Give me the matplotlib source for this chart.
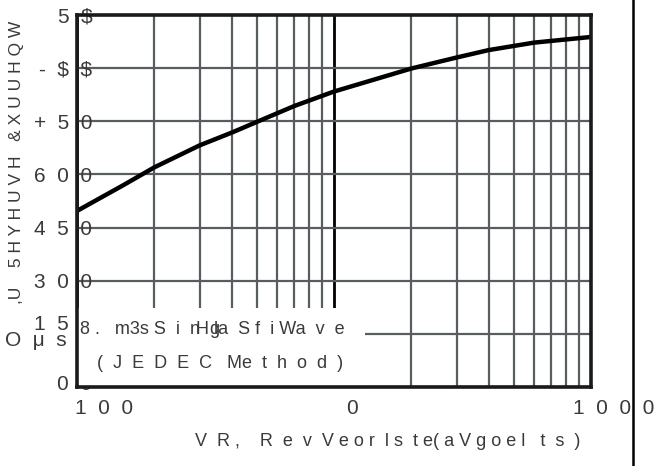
import matplotlib
matplotlib.use("Agg")
import matplotlib.pyplot as plt
from matplotlib.lines import Line2D
from matplotlib.patches import Rectangle
import matplotlib.transforms as mtransforms
import numpy as np

plt.rcParams["text.parse_math"] = False

# ---- data ----
vr = [1, 1.5, 2, 3, 4, 5, 7, 10, 15, 20, 30, 40, 60, 100]
ir = [497, 568, 620, 682, 718, 748, 793, 834, 872, 899, 930, 951, 972, 988]

y_ticks = [0, 150, 300, 450, 600, 750, 900, 1050]
y_tick_labels = ["0  0", "1  5  0", "3  0  0", "4  5  0", "6  0  0", "+  5  0", "-  $  $", "5  $"]
x_ticks = [1, 10, 100]
x_tick_labels = ["1  0  0", "0", "1  0  0  0"]

ylabel_text = ",U    5 H Y H U V H   & X U U H Q W"
unit_text = "O  μ  s"
note1_a = "8 .   m3s S  i  n  g"
note1_b = "H la  S f  i Wa  v  e"
note2 = "(  J  E  D  E  C   Me  t  h  o  d  )"
xlabel_text = "V  R ,    R  e  v  V e o r  l s  t e( a V g o e l   t  s  )"

FONT = "Liberation Sans"
TXT = "#3a3a3a"
GRID = "#575d60"

fig = plt.figure(figsize=(6.7, 4.66), dpi=100)
ax = fig.add_axes([77/670, 1-387/466, (591-77)/670, (387-15)/466])

ax.set_xscale("log")
ax.set_xlim(1, 100)
ax.set_ylim(0, 1050)
ax.set_axisbelow(True)

ax.plot(vr, ir, color="black", lw=3.2, solid_capstyle="butt", solid_joinstyle="round", zorder=3)

ax.set_yticks(y_ticks)
ax.set_yticklabels(y_tick_labels, fontfamily=FONT, fontsize=15, color=TXT)
ax.set_xticks(x_ticks)
ax.set_xticklabels(x_tick_labels, fontfamily=FONT, fontsize=15, color=TXT)
ax.xaxis.set_minor_locator(matplotlib.ticker.LogLocator(base=10, subs=np.arange(2, 10)))
ax.xaxis.set_minor_formatter(matplotlib.ticker.NullFormatter())
ax.tick_params(axis="both", which="both", length=0)
ax.tick_params(axis="y", pad=-11)
ax.tick_params(axis="x", pad=9)

# vertical nudges of y tick labels (pixels, positive = up)
y_shifts = [4, 11, 0, 0, 0, 0, 0, 0]
for lab, dy in zip(ax.get_yticklabels(), y_shifts):
    lab.set_horizontalalignment("right")
    lab.set_transform(lab.get_transform() + mtransforms.ScaledTranslation(0, dy/100, fig.dpi_scale_trans))

# shift x tick labels as in the reference
x_shifts = [27, 18, 23]
for lab, dx in zip(ax.get_xticklabels(), x_shifts):
    lab.set_transform(lab.get_transform() + mtransforms.ScaledTranslation(dx/100, 0, fig.dpi_scale_trans))

ax.yaxis.grid(True, color=GRID, lw=1.6)
ax.xaxis.grid(True, which="minor", color=GRID, lw=1.6)
ax.xaxis.grid(True, which="major", color="black", lw=2.0)

for s in ax.spines.values():
    s.set_linewidth(2.6)
    s.set_color("#1a1a1a")
    s.set_zorder(4)

# white note box covering the lower-left grid
ax.add_patch(Rectangle((0, 0), (365-77)/514, (387-308)/372, transform=ax.transAxes,
                       facecolor="white", edgecolor="none", zorder=1))

ax.set_ylabel(ylabel_text, fontfamily=FONT, fontsize=12.5, color=TXT)
ax.yaxis.set_label_coords((24-77)/514, (387-162)/372)

fig.text(5/670, 1-341/466, unit_text, fontfamily=FONT, fontsize=15, color=TXT, va="center", ha="left")

fig.text(80/670, 1-329/466, note1_a, fontfamily=FONT, fontsize=13, color=TXT, va="center", ha="left")
fig.text(196/670, 1-329/466, note1_b, fontfamily=FONT, fontsize=13, color=TXT, va="center", ha="left")
fig.text(97/670, 1-363/466, note2, fontfamily=FONT, fontsize=13, color=TXT, va="center", ha="left")

fig.text(388/670, 1-442/466, xlabel_text, fontfamily=FONT, fontsize=13, color=TXT, va="center", ha="center")

fig.add_artist(Line2D([633/670, 633/670], [0, 1], transform=fig.transFigure, color="black", lw=1.8))

fig.savefig("out.png", dpi=100)
